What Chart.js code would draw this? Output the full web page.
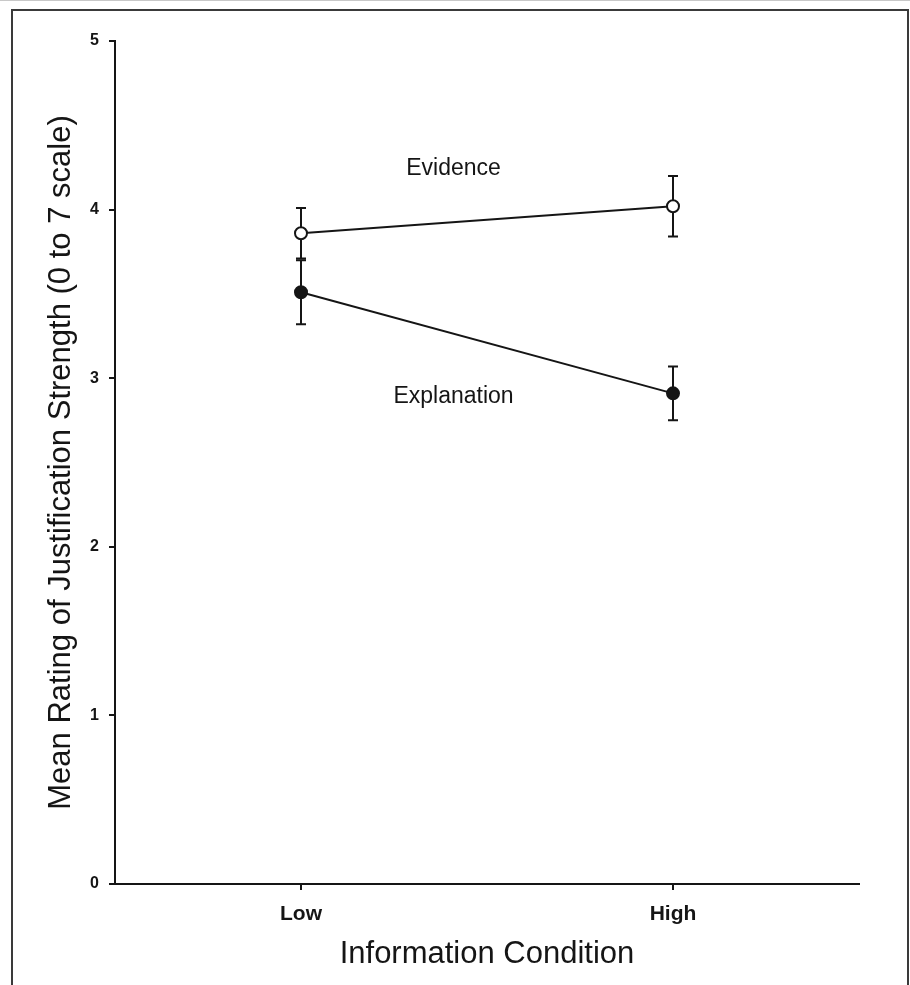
<!DOCTYPE html>
<html>
<head>
<meta charset="utf-8">
<script src="https://cdn.jsdelivr.net/npm/chart.js@4/dist/chart.umd.min.js"></script>
<style>
  html, body { margin: 0; padding: 0; background: #fff; }
  body { width: 910px; height: 985px; position: relative; overflow: hidden; }
  #topline { position: absolute; left: 0; top: 0; width: 910px; height: 1px; background: #c8c8c8; }
  #frame { position: absolute; left: 11px; top: 9px; width: 894px; height: 990px;
           border: 2px solid #3a3a3a; border-bottom: none; }
  canvas { position: absolute; left: 0; top: 0; }
</style>
</head>
<body>
<div id="topline"></div>
<div id="frame"></div>
<canvas id="chart" width="910" height="985"></canvas>
<script>
// Data
const conditions = ['Low', 'High'];
const conditionX = [1, 3];
const evidenceMean = [3.86, 4.02];
const evidenceErr = [0.15, 0.18];
const explanationMean = [3.51, 2.91];
const explanationErr = [0.19, 0.16];
const yTicks = [0, 1, 2, 3, 4, 5];

// in-plot labels (data coordinates)
const labelText = ['Evidence', 'Explanation'];
const labelX = [1.82, 1.82];
const labelY = [4.24, 2.89];

const INK = '#151515';
Chart.defaults.font.family = "'Liberation Sans', Arial, sans-serif";

const toPoints = (means) => conditionX.map((x, i) => ({ x: x, y: means[i] }));

// Error bars, drawn under the markers
const errorBars = {
    id: 'errorBars',
    beforeDatasetsDraw(chart) {
        const { ctx, scales: { x, y } } = chart;
        const series = [[evidenceMean, evidenceErr], [explanationMean, explanationErr]];
        ctx.save();
        ctx.strokeStyle = INK;
        ctx.lineWidth = 2;
        series.forEach(([means, errs]) => {
            means.forEach((m, i) => {
                const px = x.getPixelForValue(conditionX[i]);
                const top = y.getPixelForValue(m + errs[i]);
                const bot = y.getPixelForValue(m - errs[i]);
                ctx.beginPath();
                ctx.moveTo(px, top); ctx.lineTo(px, bot);
                ctx.moveTo(px - 5, top); ctx.lineTo(px + 5, top);
                ctx.moveTo(px - 5, bot); ctx.lineTo(px + 5, bot);
                ctx.stroke();
            });
        });
        ctx.restore();
    }
};

// Series names written inside the plot
const seriesLabels = {
    id: 'seriesLabels',
    afterDraw(chart) {
        const { ctx, scales: { x, y } } = chart;
        ctx.save();
        ctx.fillStyle = INK;
        ctx.font = "23px 'Liberation Sans', Arial, sans-serif";
        ctx.textAlign = 'center';
        ctx.textBaseline = 'middle';
        labelText.forEach((t, i) => {
            ctx.fillText(t, x.getPixelForValue(labelX[i]), y.getPixelForValue(labelY[i]));
        });
        ctx.restore();
    }
};

new Chart(document.getElementById('chart'), {
    type: 'scatter',
    data: {
        datasets: [{
            label: 'Evidence',
            data: toPoints(evidenceMean),
            showLine: true,
            borderColor: INK,
            borderWidth: 2,
            pointRadius: 6,
            pointBackgroundColor: '#fff',
            pointBorderColor: INK,
            pointBorderWidth: 2
        }, {
            label: 'Explanation',
            data: toPoints(explanationMean),
            showLine: true,
            borderColor: INK,
            borderWidth: 2,
            pointRadius: 6,
            pointBackgroundColor: INK,
            pointBorderColor: INK,
            pointBorderWidth: 2
        }]
    },
    options: {
        responsive: false,
        devicePixelRatio: 1,
        animation: false,
        layout: { padding: { top: 41, right: 51, bottom: 1, left: 0 } },
        plugins: { legend: { display: false }, tooltip: { enabled: false } },
        scales: {
            x: {
                type: 'linear',
                min: 0,
                max: 4,
                afterBuildTicks: s => { s.ticks = conditionX.map(v => ({ value: v })); },
                afterFit: s => { s.height = 100; },
                ticks: {
                    callback: v => conditions[conditionX.indexOf(v)],
                    color: INK,
                    font: { size: 21, weight: 'bold' },
                    padding: 12,
                    maxRotation: 0,
                    autoSkip: false
                },
                grid: { drawOnChartArea: false, drawTicks: true, tickLength: 6, color: INK, lineWidth: 2 },
                border: { display: true, color: INK, width: 2 },
                title: {
                    display: true,
                    text: 'Information Condition',
                    color: INK,
                    font: { size: 31 },
                    padding: { top: 0, bottom: 11 }
                }
            },
            y: {
                min: 0,
                max: 5,
                afterBuildTicks: s => { s.ticks = yTicks.map(v => ({ value: v })); },
                afterFit: s => { s.width = 115; },
                ticks: {
                    color: INK,
                    font: { size: 16, weight: 'bold' },
                    padding: 10
                },
                grid: { drawOnChartArea: false, drawTicks: true, tickLength: 6, color: INK, lineWidth: 2 },
                border: { display: true, color: INK, width: 2 },
                title: {
                    display: true,
                    text: 'Mean Rating of Justification Strength (0 to 7 scale)',
                    color: INK,
                    font: { size: 31 },
                    padding: { top: 43, bottom: 0 }
                }
            }
        }
    },
    plugins: [errorBars, seriesLabels]
});
</script>
</body>
</html>
